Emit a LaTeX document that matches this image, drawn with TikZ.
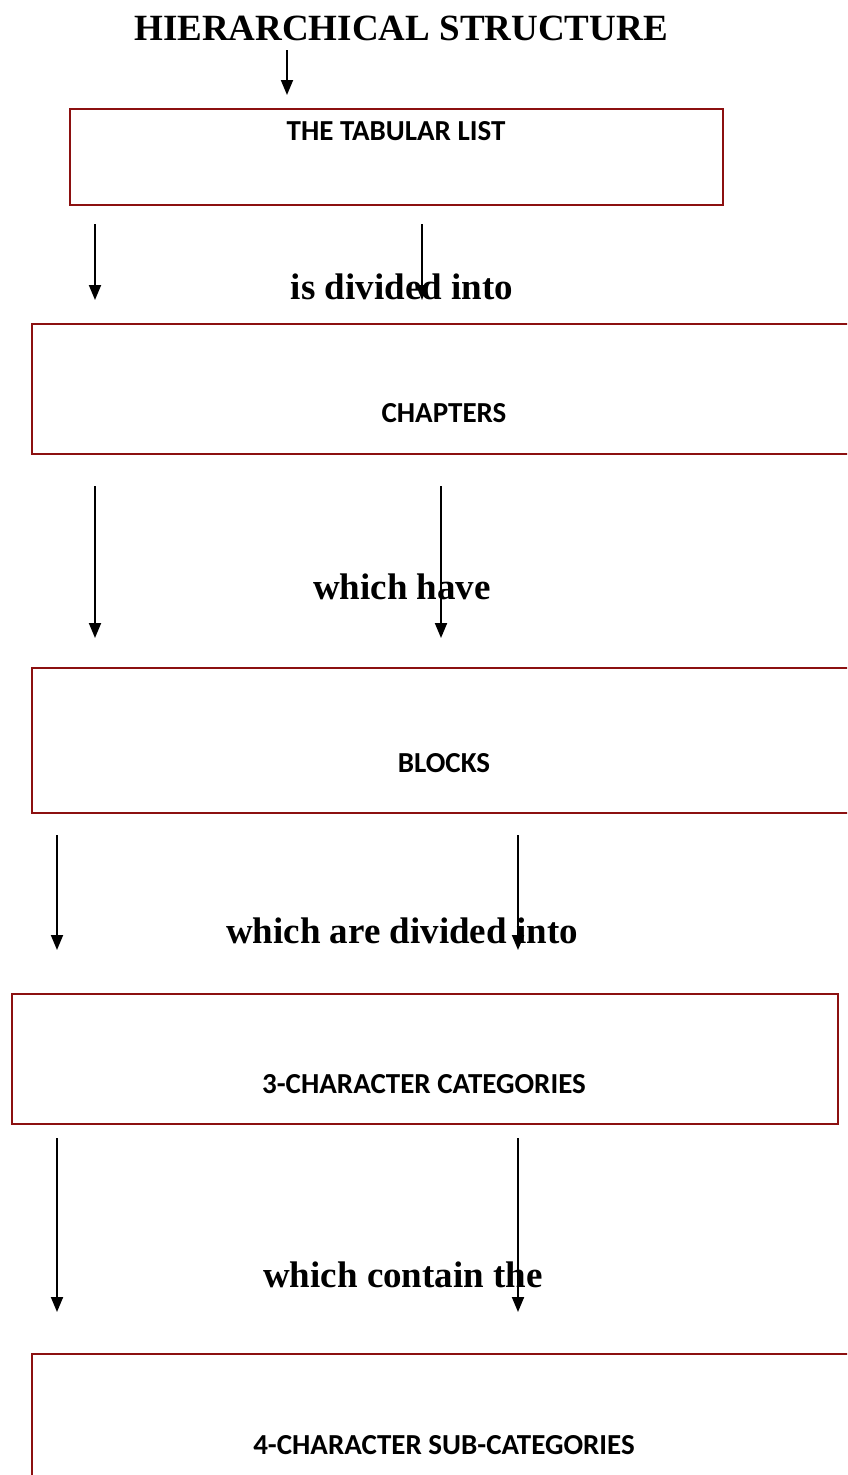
\documentclass[tikz,border=0pt]{standalone}
\usepackage{fontspec}
\setmainfont{Liberation Serif}
\newfontfamily\boxfont{Carlito}
\usetikzlibrary{arrows.meta}
\definecolor{boxred}{RGB}{140,16,16}

\begin{document}
\begin{tikzpicture}[x=1pt,y=-1pt,
  box/.style={draw=boxred,line width=2.2pt,rectangle,anchor=north west,inner sep=0pt},
  boxtext/.style={anchor=base,font=\boxfont\bfseries\fontsize{29}{34}\selectfont},
  linktext/.style={anchor=base,font=\bfseries\fontsize{37}{44}\selectfont},
  arr/.style={line width=1.9pt,-{Triangle[length=15pt,width=12pt]}}]
\useasboundingbox (0,0) rectangle (847,1475);
\clip (0,0) rectangle (847,1475);

% title
\node[linktext] (title) at (401,40) {HIERARCHICAL STRUCTURE};

% boxes
\node[box,minimum width=653,minimum height=96] (tab) at (69,108) {};
\node[box,minimum width=840,minimum height=130] (chap) at (31,323) {};
\node[box,minimum width=840,minimum height=145] (blk) at (31,667) {};
\node[box,minimum width=826,minimum height=130] (cat) at (11,993) {};
\node[box,minimum width=840,minimum height=140] (sub) at (31,1353) {};

\node[boxtext] (tabtxt) at (396,140) {THE TABULAR LIST};
\node[boxtext] (chaptxt) at (444,422) {CHAPTERS};
\node[boxtext] (blktxt) at (444,772) {BLOCKS};
\node[boxtext] (cattxt) at (424,1093) {3-CHARACTER CATEGORIES};
\node[boxtext] (subtxt) at (444,1454) {4-CHARACTER SUB-CATEGORIES};

% link words
\node[linktext] (divided) at (402,299) {is divided into};
\node[linktext] (have) at (402,599) {which have};
\node[linktext] (divinto) at (402,943) {which are divided into};
\node[linktext] (contain) at (403,1287) {which contain the};

% arrows
\draw[arr] (287,50) -- (287,95);
\draw[arr] (95,224) -- (95,300);
\draw[arr] (422,224) -- (422,300);
\draw[arr] (95,486) -- (95,638);
\draw[arr] (441,486) -- (441,638);
\draw[arr] (57,835) -- (57,950);
\draw[arr] (518,835) -- (518,950);
\draw[arr] (57,1138) -- (57,1312);
\draw[arr] (518,1138) -- (518,1312);
\end{tikzpicture}
\end{document}
